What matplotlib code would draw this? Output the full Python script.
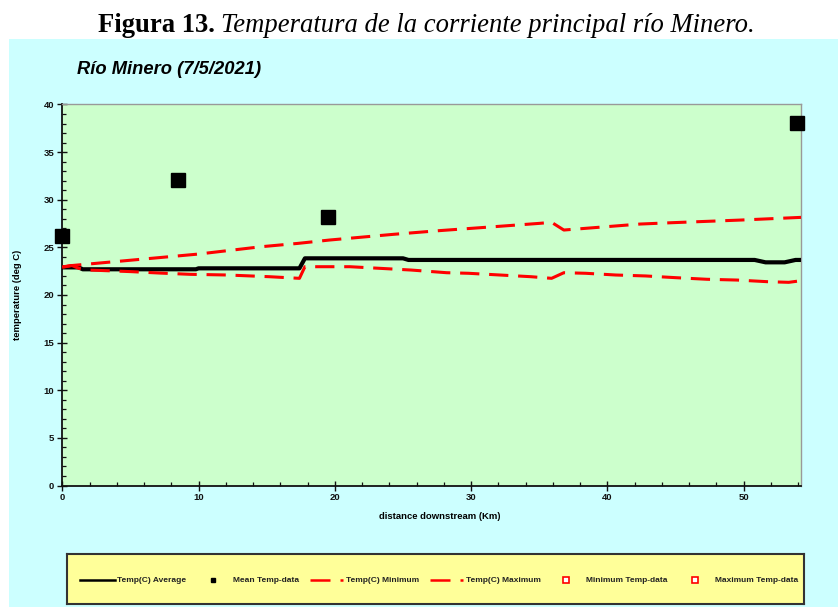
import matplotlib
matplotlib.use('Agg')
import matplotlib.pyplot as plt
from matplotlib.patches import Rectangle
from matplotlib.ticker import MultipleLocator

# data
avg_km = [0, 1.2, 1.5, 9.8, 10.0, 17.4, 17.8, 25.0, 25.4, 50.8, 51.6, 53.0, 53.8, 54.2]
avg_t = [22.9, 22.9, 22.7, 22.7, 22.8, 22.8, 23.85, 23.85, 23.68, 23.68, 23.43, 23.43, 23.68, 23.68]

max_km = [0, 0.6, 5, 10, 14.6, 17.3, 19.6, 24.3, 27.6, 31, 35.0, 35.9, 36.8, 38.4, 42.4, 44.9, 49.8, 54.2]
max_t = [22.9, 23.08, 23.65, 24.3, 25.07, 25.42, 25.77, 26.37, 26.75, 27.1, 27.52, 27.63, 26.82, 27.0, 27.45, 27.6, 27.87, 28.15]

min_km = [0, 0.7, 1.2, 2.0, 5.1, 7.2, 9.4, 12.1, 15.2, 17.4, 17.8, 21.1, 23.3, 25.6, 28.2, 29.8,
          32.1, 34.4, 35.9, 36.8, 38.4, 40.6, 42.8, 45.0, 47.3, 49.5, 51.7, 53.3, 54.2]
min_t = [22.95, 23.1, 22.8, 22.62, 22.45, 22.3, 22.17, 22.1, 21.92, 21.75, 22.97, 22.97, 22.8, 22.62, 22.34, 22.28,
         22.1, 21.92, 21.75, 22.34, 22.28, 22.1, 22.0, 21.82, 21.65, 21.57, 21.4, 21.33, 21.5]

mean_km = [0.0, 8.5, 19.5, 53.9]
mean_t = [26.2, 32.07, 28.15, 38.02]

legend_labels = ['Temp(C) Average', 'Mean Temp-data', 'Temp(C) Minimum',
                 'Temp(C) Maximum', 'Minimum Temp-data', 'Maximum Temp-data']

W, H = 838, 607
narrow = ['Liberation Sans Narrow', 'Liberation Sans', 'DejaVu Sans']

fig = plt.figure(figsize=(W / 100, H / 100), dpi=100, facecolor='white')


def box(x0, y0, x1, y1):
    # pixel box (top-left origin) -> figure fraction rect
    return [x0 / W, 1 - y1 / H, (x1 - x0) / W, (y1 - y0) / H]


# cyan panel behind the chart
fig.patches.append(Rectangle((9 / W, 0), 1, 1 - 38.7 / H, transform=fig.transFigure,
                             facecolor='#ccffff', edgecolor='none', zorder=-10))

# caption
r = fig.canvas.get_renderer()
t1 = fig.text(98 / W, 1 - 32 / H, 'Figura 13.', family='Liberation Serif', weight='bold',
              fontsize=19.2, va='baseline', ha='left')
bb = t1.get_window_extent(renderer=r)
fig.text(bb.x1 / W + 6 / W, 1 - 32 / H, 'Temperatura de la corriente principal río Minero.',
         family='Liberation Serif', style='italic', fontsize=19.2, va='baseline', ha='left')

# chart title
fig.text(77 / W, 1 - 74 / H, 'Río Minero (7/5/2021)', family=narrow, weight='bold',
         style='italic', fontsize=13.2, va='baseline', ha='left')

ax = fig.add_axes(box(62.3, 104.5, 801, 485.5))
ax.set_facecolor('#ccffcc')

ax.plot(avg_km, avg_t, color='black', lw=3.0, solid_joinstyle='round', zorder=3)
for km, t in [(min_km, min_t), (max_km, max_t)]:
    ln, = ax.plot(km, t, color='#ff0000', lw=2.2, zorder=3)
    ln.set_dashes([6.3, 3.2])
ax.plot(mean_km, mean_t, 's', color='black', markersize=10.5, zorder=4, clip_on=False)

ax.set_xlim(0, 54.2)
ax.set_ylim(0, 40)
ax.xaxis.set_major_locator(MultipleLocator(10))
ax.xaxis.set_minor_locator(MultipleLocator(2))
ax.yaxis.set_major_locator(MultipleLocator(5))
ax.yaxis.set_minor_locator(MultipleLocator(1))
ax.tick_params(which='major', direction='inout', length=6.5, width=1.0, pad=2.5,
               labelsize=6.8, colors='#111111')
ax.tick_params(which='minor', direction='in', length=3, width=0.9, color='#111111')
for lab in ax.get_xticklabels() + ax.get_yticklabels():
    lab.set_family(narrow)
    lab.set_weight('bold')

for s in ['left', 'bottom']:
    ax.spines[s].set_color('#111111')
    ax.spines[s].set_linewidth(1.3)
for s in ['top', 'right']:
    ax.spines[s].set_color('#999999')
    ax.spines[s].set_linewidth(1.0)

ax.set_xlabel('distance downstream (Km)', family=narrow, weight='bold', fontsize=6.8)
ax.set_ylabel('temperature (deg C)', family=narrow, weight='bold', fontsize=6.8)
ax.xaxis.set_label_coords((440 - 62.3) / 738.7, -(512 - 485.5) / 381)
ax.yaxis.set_label_coords((22 - 62.3) / 738.7, 0.5)

# legend box drawn in its own pixel-scaled axes
lg = fig.add_axes(box(67, 554, 804, 604))
lg.set_xlim(0, 737)
lg.set_ylim(0, 50)
lg.set_facecolor('#ffff99')
lg.set_xticks([])
lg.set_yticks([])
for s in lg.spines.values():
    s.set_color('#333333')
    s.set_linewidth(1.5)

yc = 24
kw = dict(family=narrow, weight='bold', fontsize=6.0, va='center', ha='left', color='#222222')
lg.plot([13, 48], [yc, yc], color='black', lw=1.8)
lg.text(50, yc, legend_labels[0], **kw)
lg.plot([146], [yc], 's', color='black', markersize=3.5)
lg.text(166, yc, legend_labels[1], **kw)
for x0, lab in [(243, legend_labels[2]), (363, legend_labels[3])]:
    ln, = lg.plot([x0, x0 + 33], [yc, yc], color='#ff0000', lw=1.8)
    ln.set_dashes([8, 4])
    lg.text(x0 + 36, yc, lab, **kw)
lg.plot([499], [yc], 's', mfc='white', mec='#ff0000', mew=1.2, markersize=4)
lg.text(519, yc, legend_labels[4], **kw)
lg.plot([628], [yc], 's', mfc='white', mec='#ff0000', mew=1.2, markersize=4)
lg.text(648, yc, legend_labels[5], **kw)

fig.savefig('out.png', dpi=100, facecolor='white')
